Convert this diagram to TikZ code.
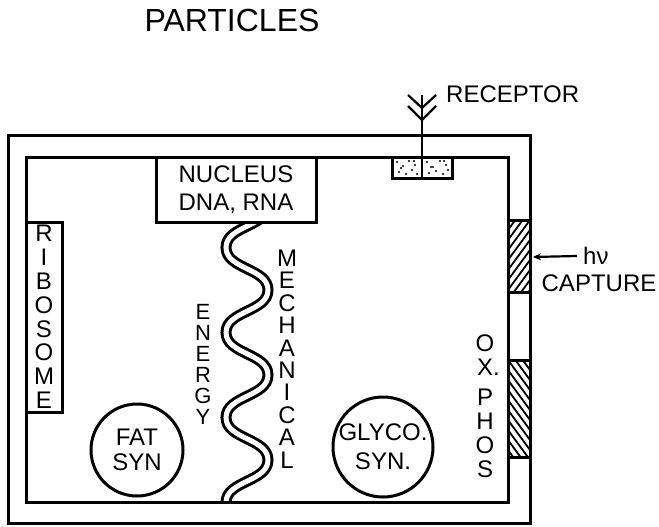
\documentclass[tikz,border=0pt]{standalone}
\usepackage{fontspec}
\setmainfont{Liberation Sans}
\usetikzlibrary{arrows.meta}
\begin{document}
\begin{tikzpicture}[x=1pt,y=-1pt,
  wall/.style={draw, line width=3pt, inner sep=0pt, outer sep=0pt},
  vstack/.style={font=\fontsize{24}{#1}\selectfont, inner sep=0pt, align=center},
  smallstack/.style={font=\fontsize{22}{#1}\selectfont, inner sep=0pt, align=center},
  lab/.style={vstack=28},
  cell/.style={draw, circle, line width=3pt, inner sep=0pt},
  hatch/.style={line width=1.8pt},
  band/.style={line width=3pt, double, double distance=5pt},
  thinline/.style={line width=2.2pt}
]
\useasboundingbox (0,0) rectangle (659,527);
\fill[white] (0,0) rectangle (659,527);

% wavy energy / mechanical band
\begin{scope}
\clip (150,222) rectangle (330,502);
\draw[band] (268,205)
 .. controls (268,227) and (226,225.5) .. (226,247.5)
 .. controls (226,269.5) and (268,268) .. (268,290)
 .. controls (268,312) and (226,310.5) .. (226,332.5)
 .. controls (226,354.5) and (268,353) .. (268,375)
 .. controls (268,397) and (226,395.5) .. (226,417.5)
 .. controls (226,439.5) and (268,438) .. (268,460)
 .. controls (268,482) and (226,480.5) .. (226,502.5)
 .. controls (226,524.5) and (268,523) .. (268,545);
\end{scope}

% walls
\node[wall, minimum width=522, minimum height=388] (outer) at (269,329) {};
\node[wall, minimum width=482, minimum height=345] (inner) at (267,329.5) {};

% right wall segments and hatching
\draw[line width=3pt] (508,220) -- (530,220);
\draw[line width=3pt] (508,292) -- (530,292);
\draw[line width=3pt] (508,360) -- (530,360);
\draw[line width=3pt] (508,457) -- (530,457);
\begin{scope}
\clip (508,220) rectangle (530,292);
\foreach \k in {0,...,11} \draw[hatch] (508,{220+10*\k}) -- (530,{190+10*\k});
\end{scope}
\begin{scope}
\clip (508,360) rectangle (530,457);
\foreach \k in {0,...,13} \draw[hatch] (508,{330+10*\k}) -- (530,{360+10*\k});
\end{scope}

% nucleus, ribosome
\node[wall, fill=white, lab, minimum width=160, minimum height=65] (nucleus) at (236,189.5) {NUCLEUS\\DNA, RNA};
\node[wall, vstack=23.8, minimum width=36, minimum height=190] (ribosome) at (44,317) {R\\I\\B\\O\\S\\O\\M\\E};

% receptor
\node[wall, fill=white, minimum width=60, minimum height=21] (patch) at (422,167.5) {};
\foreach \p in {(397,162),(403,166),(409,161),(415,165),(399,172),(406,174),(412,170),(417,174),(401,168),(414,161),
                (427,162),(433,167),(440,161),(446,165),(429,173),(436,171),(443,174),(448,170),(431,167),(444,161)}
  \fill \p circle (1.1);
\coordinate (rtop) at (422,95);
\draw[thinline] (rtop) -- (patch.south);
\draw[thinline] (408,95) -- (422,108) -- (436,95);
\draw[thinline] (408,106) -- (422,120) -- (436,106);
\node[lab, anchor=west] (receptor) at (446,94) {RECEPTOR};

% title
\node[font=\fontsize{32}{36}\selectfont, inner sep=0pt] (particles) at (232,20) {PARTICLES};

% light capture
\node[lab, anchor=west] (hv) at (583,256) {hν};
\coordinate (hit) at (533,257);
\draw[thinline, -{Stealth[length=8pt,width=7pt]}] ([xshift=-6pt]hv.west) -- (hit);
\node[lab] (capture) at (599,283) {CAPTURE};

% vertical labels
\node[smallstack=21] (energy) at (203,364) {E\\N\\E\\R\\G\\Y};
\node[vstack=22.4] (mech) at (287,359) {M\\E\\C\\H\\A\\N\\I\\C\\A\\L};
\node[vstack=24] (oxphos) at (485,406) {O\\X\rlap{.}\\[6pt]P\\H\\O\\S};

% synthesis circles
\node[cell, minimum size=92] (fat) at (137,450) {};
\node[vstack=25] (fattext) at (fat) {FAT\\SYN};
\node[cell, minimum size=100] (glyco) at (383,447) {};
\node[vstack=29] (glycotext) at (glyco) {GLYCO.\\SYN.};
\end{tikzpicture}
\end{document}
